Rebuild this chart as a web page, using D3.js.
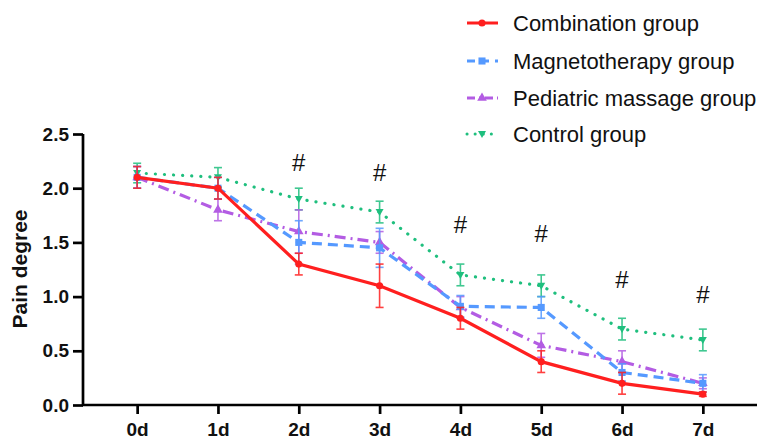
<!DOCTYPE html>
<html>
<head>
<meta charset="utf-8">
<script src="https://cdn.jsdelivr.net/npm/d3@7"></script>
<style>
html,body{margin:0;padding:0;background:#fff;}
svg{display:block;font-family:"Liberation Sans",Arial,sans-serif;}
</style>
</head>
<body>
<svg id="chart" width="760" height="440"></svg>
<script>
const days = ["0d","1d","2d","3d","4d","5d","6d","7d"];
const yTicks = [0, 0.5, 1.0, 1.5, 2.0, 2.5];
const seriesNames = ["Combination group","Magnetotherapy group","Pediatric massage group","Control group"];
const combination = [2.1, 2.0, 1.3, 1.1, 0.8, 0.4, 0.2, 0.1];
const combinationErr = [0.1, 0.1, 0.1, 0.2, 0.1, 0.1, 0.1, 0.02];
const magneto = [2.1, 2.0, 1.5, 1.45, 0.91, 0.9, 0.3, 0.2];
const magnetoErr = [0.1, 0.1, 0.2, 0.18, 0.1, 0.1, 0.08, 0.08];
const pediatric = [2.1, 1.8, 1.6, 1.5, 0.9, 0.55, 0.4, 0.2];
const pediatricErr = [0.1, 0.1, 0.2, 0.1, 0.1, 0.11, 0.1, 0.05];
const control = [2.14, 2.1, 1.9, 1.78, 1.2, 1.1, 0.7, 0.6];
const controlErr = [0.09, 0.09, 0.1, 0.1, 0.1, 0.1, 0.1, 0.1];
const sigDays = ["2d","3d","4d","5d","6d","7d"];
const sigY = [2.24, 2.15, 1.67, 1.58, 1.16, 1.02];

const svg = d3.select("#chart");
const x = d3.scalePoint().domain(days).range([83, 757]).padding(0.67);
const y = d3.scaleLinear().domain([0, 2.5]).range([405, 134]);

const styles = [
  {color:"#FF1F1F", dash:null, marker:"circle", vals:combination, err:combinationErr},
  {color:"#5599FF", dash:"10 6", marker:"square", vals:magneto, err:magnetoErr},
  {color:"#B35CE3", dash:"11 5 2 5", marker:"triangle", vals:pediatric, err:pediatricErr},
  {color:"#1FBF7E", dash:"0.1 9", marker:"invtriangle", vals:control, err:controlErr}
];

function markerPath(type){
  if(type==="circle") return d3.symbol(d3.symbolCircle, 40)();
  if(type==="square") return d3.symbol(d3.symbolSquare, 50)();
  if(type==="triangle") return d3.symbol(d3.symbolTriangle, 40)();
  return "M-4,-3L4,-3L0,4Z";
}

// axes
const yAxis = d3.axisLeft(y).tickValues(yTicks).tickFormat(d3.format(".1f")).tickSize(10).tickPadding(4);
const gy = svg.append("g").attr("transform","translate(83,0)").call(yAxis);
gy.select(".domain").attr("stroke","#000").attr("stroke-width",2.7).attr("d","M0,134V405");
gy.selectAll(".tick line").attr("stroke","#000").attr("stroke-width",2.7);
gy.selectAll(".tick text").attr("font-size",19).attr("font-weight","bold").attr("fill","#111");

const xAxis = d3.axisBottom(x).tickSize(9).tickPadding(6);
const gx = svg.append("g").attr("transform","translate(0,405)").call(xAxis);
gx.select(".domain").attr("stroke","#000").attr("stroke-width",2.7).attr("d","M82,0H757");
gx.selectAll(".tick line").attr("stroke","#000").attr("stroke-width",2.7);
gx.selectAll(".tick text").attr("font-size",19).attr("font-weight","bold").attr("fill","#111").attr("dy","0.85em");

svg.append("text").attr("transform","translate(27,269) rotate(-90)")
  .attr("text-anchor","middle").attr("font-size",21).attr("font-weight","bold").attr("fill","#111")
  .text("Pain degree");

// series: draw control first, combination last
const order = [3,2,1,0];
order.forEach(i => {
  const s = styles[i];
  const g = svg.append("g");
  const pts = days.map((d,k)=>({d:d, v:s.vals[k], e:s.err[k]}));
  // error bars
  const eb = g.selectAll(".eb").data(pts).enter().append("g").attr("opacity",0.85);
  eb.append("line").attr("x1",p=>x(p.d)).attr("x2",p=>x(p.d))
    .attr("y1",p=>y(p.v+p.e)).attr("y2",p=>y(p.v-p.e))
    .attr("stroke",s.color).attr("stroke-width",1.6);
  eb.append("line").attr("x1",p=>x(p.d)-4).attr("x2",p=>x(p.d)+4)
    .attr("y1",p=>y(p.v+p.e)).attr("y2",p=>y(p.v+p.e))
    .attr("stroke",s.color).attr("stroke-width",1.6);
  eb.append("line").attr("x1",p=>x(p.d)-4).attr("x2",p=>x(p.d)+4)
    .attr("y1",p=>y(p.v-p.e)).attr("y2",p=>y(p.v-p.e))
    .attr("stroke",s.color).attr("stroke-width",1.6);
  const line = d3.line().x(p=>x(p.d)).y(p=>y(p.v));
  const path = g.append("path").datum(pts).attr("d",line).attr("fill","none")
    .attr("stroke",s.color).attr("stroke-width",i===3?3.2:3.2);
  if(s.dash) path.attr("stroke-dasharray",s.dash);
  if(i===3) path.attr("stroke-linecap","round");
  g.selectAll(".mk").data(pts).enter().append("path")
    .attr("d",markerPath(s.marker))
    .attr("transform",p=>`translate(${x(p.d)},${y(p.v)})`)
    .attr("fill",s.color);
});

// significance marks
svg.selectAll(".sig").data(sigDays.map((d,k)=>({d:d,v:sigY[k]}))).enter().append("text")
  .attr("x",p=>x(p.d)).attr("y",p=>y(p.v)).attr("dy","0.36em")
  .attr("text-anchor","middle").attr("font-size",24).attr("fill","#111").text("#");

// legend
const legY = [23, 61, 98, 134];
styles.forEach((s,i)=>{
  const g = svg.append("g").attr("transform",`translate(0,${legY[i]})`);
  const l = g.append("line").attr("x1",467).attr("x2",498).attr("y1",0).attr("y2",0)
    .attr("stroke",s.color).attr("stroke-width",3);
  if(s.dash) l.attr("stroke-dasharray", i===1?"8 6":(i===2?"8 4 2 4":"0.1 8"));
  if(i===3) l.attr("stroke-linecap","round");
  g.append("path").attr("d",markerPath(s.marker)).attr("transform","translate(482,0)").attr("fill",s.color);
  g.append("text").attr("x",513).attr("y",0).attr("dy","0.36em")
    .attr("font-size",22).attr("fill","#111").text(seriesNames[i]);
});
</script>
</body>
</html>
